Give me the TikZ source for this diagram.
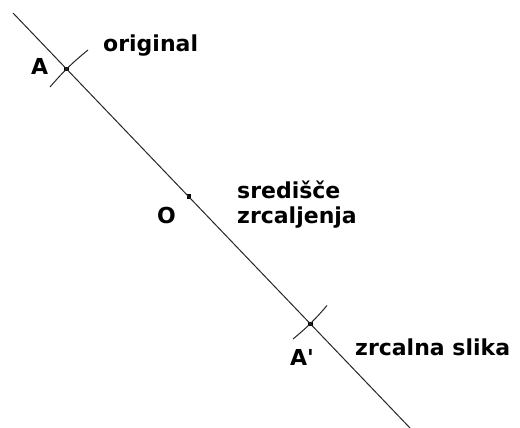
\documentclass[tikz,border=0pt]{standalone}
\usepackage{fontspec}
\newfontfamily\lab{DejaVu Sans}
\begin{document}
\begin{tikzpicture}[x=1pt,y=-1pt,
  dot/.style={fill=black,inner sep=0pt,minimum size=4.5pt,rectangle},
  lbl/.style={anchor=base west,inner sep=0pt,font=\lab\bfseries\fontsize{22}{26}\selectfont},
  ln/.style={line width=1pt,black!85}]
\useasboundingbox (0,0) rectangle (520,428);
\coordinate (s) at (13,13);
\coordinate (e) at (410,428);
\node[dot] (A) at (66.7,68.8) {};
\node[dot] (O) at (189,196.5) {};
\node[dot] (Ap) at (310.7,324) {};
\draw[ln] (s) -- (e);
% compass arcs
\coordinate (a1) at (50,87);
\coordinate (a2) at (88,50);
\coordinate (b1) at (293,339);
\coordinate (b2) at (327,305.5);
\draw[ln] (a1) to[bend left=5] (a2);
\draw[ln] (b1) to[bend right=5] (b2);
% labels
\node[lbl] (tA) at (31,75) {A};
\node[lbl] (tor) at (103,52) {original};
\node[lbl] (tO) at (157,223) {O};
\node[lbl] (tsr) at (237,198) {središče};
\node[lbl] (tzr) at (237,223) {zrcaljenja};
\node[lbl] (tAp) at (290,365) {A'};
\node[lbl] (tsl) at (355,355) {zrcalna slika};
\end{tikzpicture}
\end{document}
